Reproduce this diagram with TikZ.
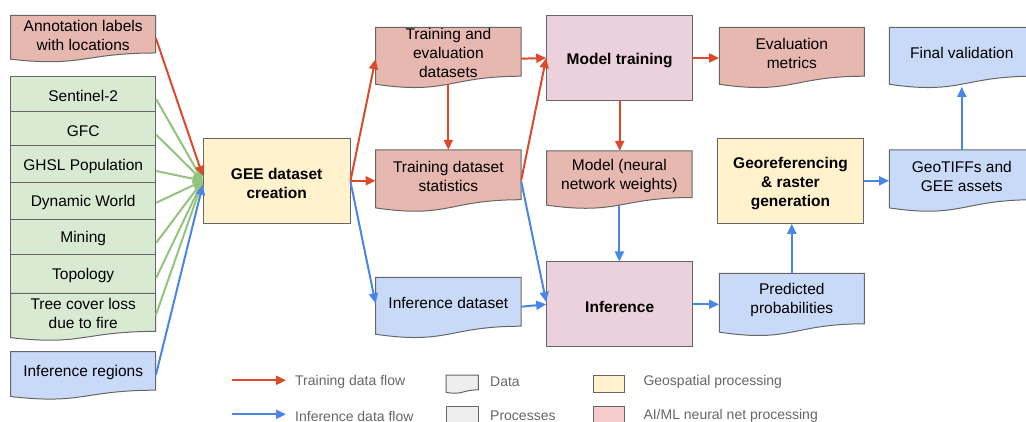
\documentclass[tikz,border=0pt]{standalone}
\usepackage{fontspec}
\setmainfont{Liberation Sans}
\usetikzlibrary{arrows.meta,calc}
\definecolor{redc}{HTML}{DB4A2B}
\definecolor{bluec}{HTML}{4A86E8}
\definecolor{greenc}{HTML}{93C47D}
\definecolor{docred}{HTML}{E6B8AF}
\definecolor{docgreen}{HTML}{D9EAD3}
\definecolor{docblue}{HTML}{C9DAF8}
\definecolor{procyellow}{HTML}{FFF2CC}
\definecolor{procpink}{HTML}{EAD1DC}
\definecolor{legpink}{HTML}{F4CCCC}
\definecolor{leggray}{HTML}{EEEEEE}
\definecolor{bordc}{HTML}{666666}
\definecolor{legtext}{HTML}{666666}
\tikzset{
  boxline/.style={draw=bordc, line width=1pt},
  txt/.style={font=\fontsize{15.5}{18.8}\selectfont, align=center, text=black, inner sep=0pt},
  proc/.style={boxline, inner sep=0pt},
  ptxt/.style={font=\fontsize{15.5}{18.8}\selectfont\bfseries, align=center, text=black, inner sep=0pt, yshift=-2.5pt},
  gbox/.style={boxline, fill=docgreen, inner sep=0pt, minimum width=145pt},
  gtxt/.style={font=\fontsize{15.5}{18.8}\selectfont, align=center, text=black, inner sep=0pt, yshift=-2pt},
  leg/.style={font=\fontsize{14}{17}\selectfont, text=legtext, anchor=west, inner sep=0pt},
  ra/.style={draw=redc, line width=2pt, -{Triangle[length=10pt,width=9pt]}},
  ba/.style={draw=bluec, line width=2pt, -{Triangle[length=10pt,width=9pt]}},
  ga/.style={draw=greenc, line width=2pt, -{Triangle[length=10pt,width=9pt]}},
}
% #1 name, #2 x1, #3 y1, #4 x2, #5 H, #6 fill, #7 text
\newcommand\mydocbox[7]{%
  \path[boxline, fill=#6] (#2,#3) -- (#4,#3) -- (#4,{#3+0.802*#5})
    .. controls ({(#2+#4)/2},{#3+0.802*#5}) and ({(#2+#4)/2},{#3+1.1075*#5}) .. (#2,{#3+0.934*#5}) -- cycle;
  \node[txt, minimum width={(#4-#2)*1pt}, minimum height={(0.8*#5+3)*1pt}] (#1) at ({(#2+#4)/2},{#3+0.4*#5+1.5}) {#7};
}
\begin{document}
\begin{tikzpicture}[x=1pt,y=-1pt]
\useasboundingbox (0,0) rectangle (1026,422);
\clip (0,0) rectangle (1026,422);

% left column
\mydocbox{ann}{10.7}{15.3}{155.7}{47}{docred}{Annotation labels\\with locations}
\node[gbox, minimum height=35pt, label={[gtxt]center:Sentinel-2}] (s2) at (83.2,94.2) {};
\node[gbox, minimum height=34pt, label={[gtxt]center:GFC}] (gfc) at (83.2,128.7) {};
\node[gbox, minimum height=36.6pt, label={[gtxt]center:GHSL Population}] (ghsl) at (83.2,164) {};
\node[gbox, minimum height=37pt, label={[gtxt]center:Dynamic World}] (dw) at (83.2,200.8) {};
\node[gbox, minimum height=35pt, label={[gtxt]center:Mining}] (mining) at (83.2,236.8) {};
\node[gbox, minimum height=39pt, label={[gtxt]center:Topology}] (topo) at (83.2,273.8) {};
\mydocbox{tree}{10.7}{293.3}{155.7}{47.5}{docgreen}{Tree cover loss\\due to fire}
\mydocbox{infr}{10.7}{351.7}{155.7}{48}{docblue}{Inference regions}

% processes
\node[proc, fill=procyellow, minimum width=146.7pt, minimum height=85pt, label={[ptxt]center:{GEE dataset\\creation}}] (gee) at (276.65,180.8) {};
\node[proc, fill=procpink, minimum width=146pt, minimum height=85.4pt, label={[ptxt]center:Model training}] (mt) at (619.7,58) {};
\node[proc, fill=procpink, minimum width=146pt, minimum height=84.7pt, label={[ptxt]center:Inference}] (inf) at (619.7,304.35) {};
\node[proc, fill=procyellow, minimum width=146.4pt, minimum height=85pt, label={[ptxt]center:{Georeferencing\\\& raster\\generation}}] (grg) at (790.5,180.8) {};

% data documents
\mydocbox{tes}{375.7}{27.3}{521}{61}{docred}{Training and\\evaluation\\datasets}
\mydocbox{tst}{375.7}{150}{521}{62}{docred}{Training dataset\\statistics}
\mydocbox{ids}{375.7}{277.3}{521}{61}{docblue}{Inference dataset}
\mydocbox{mnn}{546.7}{151}{692}{58}{docred}{Model (neural\\network weights)}
\mydocbox{evm}{719.3}{27.3}{864.3}{61}{docred}{Evaluation\\metrics}
\mydocbox{pp}{719.3}{273.3}{864.3}{63}{docblue}{Predicted\\probabilities}
\mydocbox{fv}{889.3}{27.3}{1034.3}{61}{docblue}{Final validation}
\mydocbox{geo}{889.3}{150}{1034.3}{62}{docblue}{GeoTIFFs and\\GEE assets}

% green arrows
\draw[ga] ($(s2.east)+(0,5)$) -- (gee.west);
\draw[ga] ($(gfc.east)+(0,6)$) -- (gee.west);
\draw[ga] ($(ghsl.east)+(0,7)$) -- (gee.west);
\draw[ga] ($(dw.east)+(0,2)$) -- (gee.west);
\draw[ga] ($(mining.east)+(0,6)$) -- (gee.west);
\draw[ga] ($(topo.east)+(0,4)$) -- (gee.west);
\draw[ga] ($(tree.east)+(0,1.2)$) -- (gee.west);

% blue arrows
\draw[ba] ($(infr.east)+(0,2.5)$) -- ($(gee.west)+(0,4)$);
\draw[ba] ($(gee.east)+(0,1)$) -- (ids.west);
\draw[ba] ($(tst.east)+(0,5)$) -- ($(inf.west)+(0,-2.5)$);
\draw[ba] ($(ids.east)+(0,3.5)$) -- (inf.west);
\draw[ba] ($(mnn.south)+(0,4.7)$) -- (mnn.south |- inf.north);
\draw[ba] (inf.east) -- (inf.east -| pp.west);
\draw[ba] (pp.north) -- (pp.north |- grg.south);
\draw[ba] (grg.east) -- (grg.east -| geo.west);
\draw[ba] (geo.north) -- ($(geo.north |- fv.south)+(0,7.6)$);

% red arrows
\draw[ra] ($(ann.east)+(0,2.7)$) -- ($(gee.west)+(0,-5)$);
\draw[ra] (gee.east) -- ($(tes.west)+(0,6.1)$);
\draw[ra] (gee.east) -- (gee.east -| tst.west);
\draw[ra] ($(tes.south)+(0,5)$) -- (tes.south |- tst.north);
\draw[ra] ($(tes.east)+(0,5.5)$) -- (mt.west);
\draw[ra] ($(tst.east)+(0,4)$) -- (mt.west);
\draw[ra] (mt.south) -- (mt.south |- mnn.north);
\draw[ra] (mt.east) -- (mt.east -| evm.west);

% legend
\coordinate (lr0) at (231.7,380.3);
\coordinate (lr1) at (286,380.3);
\coordinate (lb0) at (231.7,414.3);
\coordinate (lb1) at (286,414.3);
\draw[ra] (lr0) -- (lr1);
\draw[ba] (lb0) -- (lb1);
\node[leg] (ltr) at (295,382.3) {Training data flow};
\node[leg] (lin) at (295,416) {Inference data flow};
\mydocbox{ldata}{446}{375}{478.3}{18.5}{leggray}{}
\node[leg] (ldatat) at (490,381.5) {Data};
\node[boxline, fill=leggray, minimum width=32.3pt, minimum height=18pt, inner sep=0pt] (lproc) at (462.15,415) {};
\node[leg] (lproct) at (490,416) {Processes};
\node[boxline, fill=procyellow, minimum width=31pt, minimum height=17.3pt, inner sep=0pt] (lgeo) at (608.8,383.65) {};
\node[leg] (lgeot) at (643.3,382.3) {Geospatial processing};
\node[boxline, fill=legpink, minimum width=31pt, minimum height=17.3pt, inner sep=0pt] (lai) at (608.8,415.35) {};
\node[leg] (lait) at (643.3,416) {AI/ML neural net processing};
\end{tikzpicture}
\end{document}
